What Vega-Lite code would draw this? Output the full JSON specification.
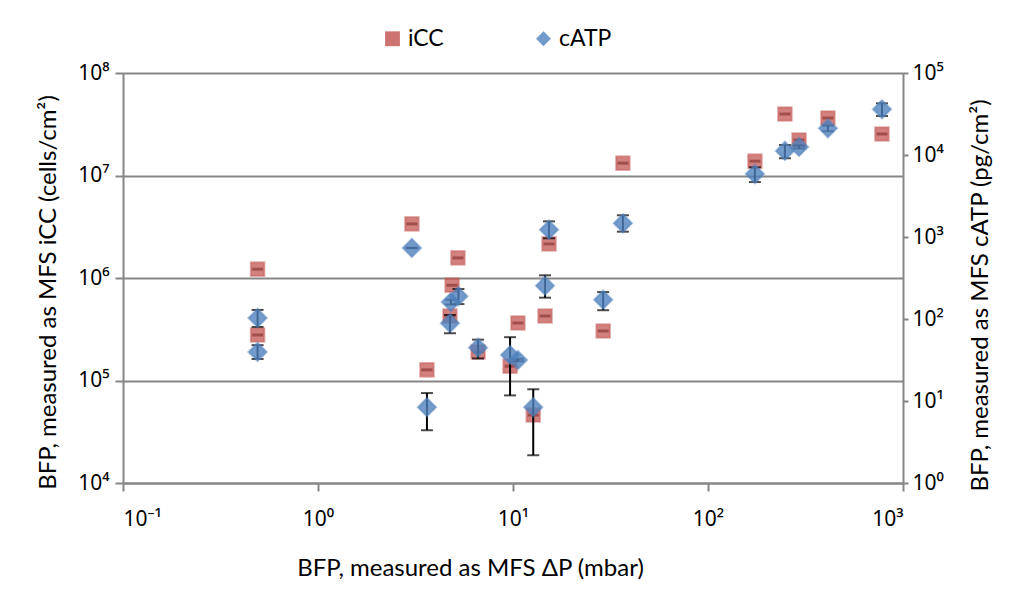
{
  "$schema": "https://vega.github.io/schema/vega-lite/v6.json",
  "width": 780,
  "height": 410,
  "autosize": {"type": "none"},
  "padding": {"left": 123, "top": 73, "right": 114, "bottom": 118},
  "background": "white",
  "config": {
    "font": "Lato",
    "view": {"stroke": null},
    "axis": {
      "labelFont": "Noto Sans",
      "titleFont": "Lato",
      "labelFontSize": 21,
      "titleFontSize": 24,
      "labelColor": "#000000",
      "titleColor": "#000000",
      "titleFontWeight": "normal",
      "domainColor": "#868686",
      "domainWidth": 2,
      "tickColor": "#868686",
      "tickWidth": 2,
      "gridColor": "#868686",
      "gridWidth": 2
    },
    "legend": {
      "labelFont": "Lato",
      "labelFontSize": 23,
      "labelColor": "#000000"
    }
  },
  "datasets": {
    "icc": [
      {"x": 0.49, "v": 1220000, "series": "iCC"},
      {"x": 0.49, "v": 278000, "series": "iCC"},
      {"x": 3.03, "v": 3370000, "series": "iCC"},
      {"x": 3.62, "v": 127000, "series": "iCC"},
      {"x": 4.75, "v": 426000, "series": "iCC"},
      {"x": 4.87, "v": 850000, "series": "iCC"},
      {"x": 5.22, "v": 1570000, "series": "iCC"},
      {"x": 6.62, "v": 190000, "series": "iCC"},
      {"x": 9.66, "v": 138000, "series": "iCC"},
      {"x": 10.6, "v": 364000, "series": "iCC"},
      {"x": 12.7, "v": 46000, "series": "iCC"},
      {"x": 14.6, "v": 426000, "series": "iCC"},
      {"x": 15.3, "v": 2150000, "series": "iCC"},
      {"x": 29, "v": 304000, "series": "iCC"},
      {"x": 36.6, "v": 13200000, "series": "iCC"},
      {"x": 174, "v": 13800000, "series": "iCC"},
      {"x": 248, "v": 39800000, "series": "iCC"},
      {"x": 293, "v": 22200000, "series": "iCC"},
      {"x": 412, "v": 36400000, "series": "iCC"},
      {"x": 780, "v": 25400000, "series": "iCC"}
    ],
    "catp": [
      {"x": 0.49, "v": 103, "lo": 80, "hi": 129, "series": "cATP"},
      {"x": 0.49, "v": 39.6, "lo": 32.5, "hi": 48, "series": "cATP"},
      {"x": 3.03, "v": 735, "lo": 730, "hi": 740, "series": "cATP"},
      {"x": 3.62, "v": 8.4, "lo": 4.4, "hi": 12.5, "series": "cATP"},
      {"x": 4.75, "v": 89, "lo": 67, "hi": 112, "series": "cATP"},
      {"x": 4.8, "v": 161, "lo": 150, "hi": 172, "series": "cATP"},
      {"x": 5.25, "v": 190, "lo": 152, "hi": 232, "series": "cATP"},
      {"x": 6.62, "v": 44.7, "lo": 33, "hi": 56, "series": "cATP"},
      {"x": 9.66, "v": 36.4, "lo": 11.7, "hi": 60, "series": "cATP"},
      {"x": 10.6, "v": 31.6, "lo": 30.5, "hi": 32.7, "series": "cATP"},
      {"x": 12.7, "v": 8.4, "lo": 2.18, "hi": 13.9, "series": "cATP"},
      {"x": 14.6, "v": 255, "lo": 182, "hi": 341, "series": "cATP"},
      {"x": 15.3, "v": 1227, "lo": 964, "hi": 1552, "series": "cATP"},
      {"x": 29, "v": 172, "lo": 128, "hi": 213, "series": "cATP"},
      {"x": 36.6, "v": 1469, "lo": 1161, "hi": 1841, "series": "cATP"},
      {"x": 174, "v": 5866, "lo": 4680, "hi": 7080, "series": "cATP"},
      {"x": 248, "v": 11200, "lo": 9130, "hi": 13240, "series": "cATP"},
      {"x": 293, "v": 12530, "lo": 12000, "hi": 13100, "series": "cATP"},
      {"x": 412, "v": 21130, "lo": 19500, "hi": 22800, "series": "cATP"},
      {"x": 780, "v": 36040, "lo": 29920, "hi": 42660, "series": "cATP"}
    ]
  },
  "encoding": {
    "x": {
      "field": "x",
      "type": "quantitative",
      "scale": {"type": "log", "domain": [0.1, 1000], "nice": false},
      "axis": {
        "values": [0.1, 1, 10, 100, 1000],
        "labelExpr": "'10' + (round(log(datum.value)/LN10) < 0 ? '⁻' : '') + ['⁰','¹','²','³','⁴','⁵','⁶','⁷','⁸','⁹'][abs(round(log(datum.value)/LN10))]",
        "grid": false,
        "tickSize": 8,
        "labelPadding": 17,
        "title": "BFP, measured as MFS ΔP (mbar)",
        "titleX": 347,
        "titleY": 85,
        "titleAlign": "center",
        "titleBaseline": "middle"
      }
    }
  },
  "layer": [
    {
      "data": {"name": "icc"},
      "encoding": {
        "y": {
          "field": "v",
          "type": "quantitative",
          "scale": {"type": "log", "domain": [10000, 100000000], "nice": false},
          "axis": {
            "orient": "left",
            "values": [10000, 100000, 1000000, 10000000, 100000000],
            "labelExpr": "'10' + ['⁰','¹','²','³','⁴','⁵','⁶','⁷','⁸','⁹'][round(log(datum.value)/LN10)]",
            "grid": true,
            "tickSize": 8,
            "labelPadding": 6,
            "title": "BFP, measured as MFS iCC (cells/cm²)",
            "titleAngle": 270,
            "titleX": -75,
            "titleY": 219,
            "titleAlign": "center",
            "titleBaseline": "middle"
          }
        }
      },
      "layer": [
        {
          "mark": {"type": "tick", "orient": "horizontal", "color": "#000000", "size": 11, "thickness": 3}
        },
        {
          "mark": {"type": "point", "filled": true, "size": 185, "fillOpacity": 0.72, "stroke": "#c0504d", "strokeOpacity": 0.45, "strokeWidth": 2},
          "encoding": {
            "shape": {"field": "series", "type": "nominal", "scale": {"domain": ["iCC", "cATP"], "range": ["square", "diamond"]}},
            "color": {"field": "series", "type": "nominal", "scale": {"domain": ["iCC", "cATP"], "range": ["#c0504d", "#4f81bd"]}}
          }
        }
      ]
    },
    {
      "data": {"name": "catp"},
      "encoding": {
        "y": {
          "field": "v",
          "type": "quantitative",
          "scale": {"type": "log", "domain": [1, 100000], "nice": false},
          "axis": {
            "orient": "right",
            "values": [1, 10, 100, 1000, 10000, 100000],
            "labelExpr": "'10' + ['⁰','¹','²','³','⁴','⁵','⁶','⁷','⁸','⁹'][round(log(datum.value)/LN10)]",
            "grid": false,
            "tickSize": 5,
            "labelPadding": 4,
            "title": "BFP, measured as MFS cATP (pg/cm²)",
            "titleAngle": 270,
            "titleX": 77,
            "titleY": 222,
            "titleAlign": "center",
            "titleBaseline": "middle"
          }
        }
      },
      "layer": [
        {
          "mark": {"type": "rule", "color": "#000000", "strokeWidth": 2},
          "encoding": {
            "y": {"field": "lo", "type": "quantitative"},
            "y2": {"field": "hi"}
          }
        },
        {
          "mark": {"type": "tick", "orient": "horizontal", "color": "#000000", "size": 12, "thickness": 2},
          "encoding": {"y": {"field": "lo", "type": "quantitative"}}
        },
        {
          "mark": {"type": "tick", "orient": "horizontal", "color": "#000000", "size": 12, "thickness": 2},
          "encoding": {"y": {"field": "hi", "type": "quantitative"}}
        },
        {
          "mark": {"type": "point", "filled": true, "size": 340, "fillOpacity": 0.8, "stroke": "#4f81bd", "strokeOpacity": 0.45, "strokeWidth": 2},
          "encoding": {
            "shape": {"field": "series", "type": "nominal", "scale": {"domain": ["iCC", "cATP"], "range": ["square", "diamond"]},
              "legend": {"orient": "none", "legendX": 258, "legendY": -46, "direction": "horizontal", "title": null, "symbolSize": 220, "symbolStrokeWidth": 0, "symbolOpacity": 0.8, "columnPadding": 88, "labelOffset": 4}},
            "color": {"field": "series", "type": "nominal", "scale": {"domain": ["iCC", "cATP"], "range": ["#c0504d", "#4f81bd"]},
              "legend": {"orient": "none", "legendX": 258, "legendY": -46, "direction": "horizontal", "title": null, "symbolSize": 220, "symbolStrokeWidth": 0, "symbolOpacity": 0.8, "columnPadding": 88, "labelOffset": 4}}
          }
        }
      ]
    }
  ],
  "resolve": {"scale": {"y": "independent"}}
}
